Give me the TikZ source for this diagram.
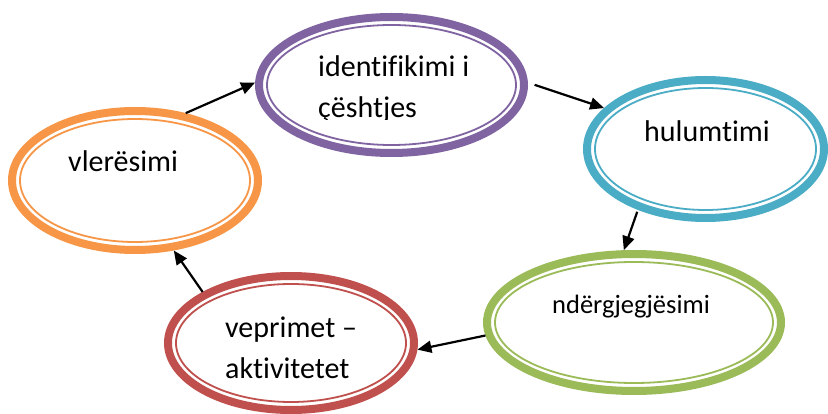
\documentclass[tikz,border=0pt]{standalone}
\usepackage{fontspec}
\setmainfont{Carlito}[Ligatures=CommonOff]
\usetikzlibrary{shapes.geometric,arrows.meta}
\definecolor{cpurple}{HTML}{8064A2}
\definecolor{cblue}{HTML}{4BACC6}
\definecolor{cgreen}{HTML}{9BBB59}
\definecolor{corange}{HTML}{F79646}
\definecolor{cred}{HTML}{C0504D}
\tikzset{
  stage/.style={ellipse, draw=#1, line width=8pt, outer sep=4pt, inner sep=0pt, fill=white},
  stagetext/.style={anchor=base west, inner sep=0pt, align=left, font=\fontsize{30}{41}\selectfont},
  flow/.style={-{Triangle[length=14pt,width=12pt]}, line width=2.2pt, black},
}
% inner thin ring of each stage: radii of the outer ring minus 12pt
\newcommand{\innerring}[4]{\draw[#1, line width=1.8pt] (#2) ellipse[x radius=#3-12, y radius=#4-12];}
\begin{document}
\begin{tikzpicture}[x=1pt,y=-1pt]
\useasboundingbox (0,0) rectangle (828,414);
% stages: outer edge radii (rx, ry); stroke centre sits 4pt inside
\node[stage=cpurple, minimum width=265pt, minimum height=136pt] (ident) at (391.5,85) {};
\innerring{cpurple}{ident.center}{136.5}{72}
\node[stage=cblue, minimum width=237pt, minimum height=138pt] (hul) at (705.5,149) {};
\innerring{cblue}{hul.center}{122.5}{73}
\node[stage=cgreen, minimum width=294pt, minimum height=137pt] (nder) at (634,322.5) {};
\innerring{cgreen}{nder.center}{151}{72.5}
\node[stage=cred, minimum width=246pt, minimum height=134pt] (vep) at (291,343) {};
\innerring{cred}{vep.center}{127}{71}
\node[stage=corange, minimum width=246pt, minimum height=139pt] (vler) at (135,180.5) {};
\innerring{corange}{vler.center}{127}{73.5}
% labels (base anchor sits on the last line)
\begin{scope}
  \clip (300,40) rectangle (500,120);
  \node[stagetext] (tident) at (318,118) {identifikimi i\\çështjes};
\end{scope}
\node[stagetext] (thul) at (644,142) {hulumtimi};
\node[stagetext, font=\fontsize{26.5}{38}\selectfont] (tnder) at (552,313) {ndërgjegjësimi};
\node[stagetext] (tvep) at (225,378) {veprimet –\\aktivitetet};
\node[stagetext] (tvler) at (68,172) {vlerësimi};
% cycle of arrows
\draw[flow] (vler.53) -- (ident.179);
\draw[flow, shorten <=7pt] (ident.1) -- (hul.158);
\draw[flow, shorten <=2pt] (hul.222) -- (nder.98);
\draw[flow] (nder.185) -- (vep.-3);
\draw[flow] (vep.150) -- (vler.-61);
\end{tikzpicture}
\end{document}
